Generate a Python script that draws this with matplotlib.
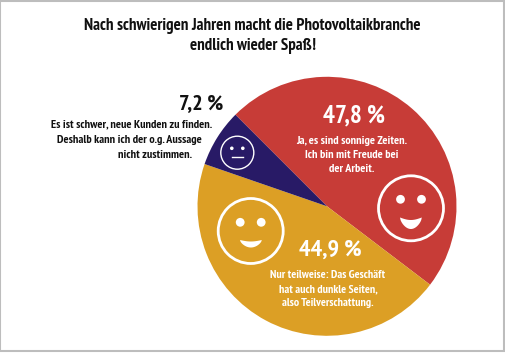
import numpy as np
import matplotlib.pyplot as plt
from matplotlib.patches import Circle, Polygon, Rectangle

# Daten
werte = [47.8, 44.9, 7.2]
farben = ['#c73c37', '#dc9f25', '#281a66']
prozent = ['47,8 %', '44,9 %', '7,2 %']
titel = 'Nach schwierigen Jahren macht die Photovoltaikbranche\nendlich wieder Spaß!'
text_rot = 'Ja, es sind sonnige Zeiten.\nIch bin mit Freude bei\nder Arbeit.'
text_gelb = 'Nur teilweise: Das Geschäft\nhat auch dunkle Seiten,\nalso Teilverschattung.'
text_blau = ['Es ist schwer, neue Kunden zu finden.', 'Deshalb kann ich der o.g. Aussage', 'nicht zustimmen.']

plt.rcParams['font.family'] = ['PT Sans Narrow', 'Asap Condensed', 'Liberation Sans', 'DejaVu Sans']
W, H = 506, 353

fig = plt.figure(figsize=(W/100, H/100), dpi=100)
ax = fig.add_axes([0, 0, 1, 1])


# Bildpixel von oben nach y von unten
def Y(y):
    return H - y


ax.pie(werte, colors=farben, startangle=135, counterclock=False,
       center=(327, Y(206.3)), radius=129.5, frame=True)
ax.set_xlim(0, W)
ax.set_ylim(0, H)
ax.set_aspect('equal')
ax.axis('off')

# Rahmen
ax.add_patch(Rectangle((0.5, 2.5), W-2, H-3, fill=False, ec='#bdbdbd', lw=1.5))


# Gesichter
def gesicht(cx, cy, r, eye_dx, eye_dy, eye_r, lw):
    ax.add_patch(Circle((cx, Y(cy)), r, fill=False, ec='white', lw=lw))
    for s in (-1, 1):
        ax.add_patch(Circle((cx + s*eye_dx, Y(cy + eye_dy)), eye_r, fc='white', ec='none'))


def laecheln(x0, x1, y_top, y_bot, durchhang):
    t = np.linspace(0, 1, 40)
    xs = x0 + (x1 - x0)*t
    oben = y_top + durchhang*np.sin(np.pi*t)
    unten = y_top + (y_bot - y_top)*np.sin(np.pi*t)**0.6
    pts = np.r_[np.c_[xs, Y(oben)], np.c_[xs[::-1], Y(unten[::-1])]]
    ax.add_patch(Polygon(pts, closed=True, fc='white', ec='none'))


gesicht(411, 208.3, 32.5, 10.5, -9, 4.4, 2.0)
laecheln(400, 421.8, 217.5, 229, 2.5)

gesicht(250.7, 231, 32.5, 10.5, -8.7, 4.4, 2.0)
laecheln(240, 261.8, 240, 247.5, 1.5)

gesicht(237.3, 152.7, 16.5, 5.5, -4.4, 1.8, 1.0)
ax.plot([231.7, 243.3], [Y(157.3), Y(157.3)], color='white', lw=1.0)

# Texte
ax.text(252.7, Y(35.7), titel, ha='center', va='center', fontsize=12.2, fontweight='bold',
        color='#111111', linespacing=1.32)

ax.text(354, Y(115.5), prozent[0], ha='center', va='center', fontsize=18, fontweight='bold', color='white')
ax.text(352, Y(155), text_rot, ha='center', va='center', fontsize=8.7, fontweight='bold',
        color='white', linespacing=1.5)

ax.text(330, Y(250.5), prozent[1], ha='center', va='center', fontsize=17.5, fontweight='bold', color='white')
ax.text(328, Y(289), text_gelb, ha='center', va='center', fontsize=8.6, fontweight='bold',
        color='white', linespacing=1.5)

ax.text(201.5, Y(103.5), prozent[2], ha='center', va='center', fontsize=16, fontweight='bold', color='#111111')
for zeile, x, y in zip(text_blau, [132, 129, 155], [124.3, 140, 155]):
    ax.text(x, Y(y), zeile, ha='center', va='center', fontsize=8.7, fontweight='bold', color='#111111')

fig.savefig('out.png', dpi=100)
